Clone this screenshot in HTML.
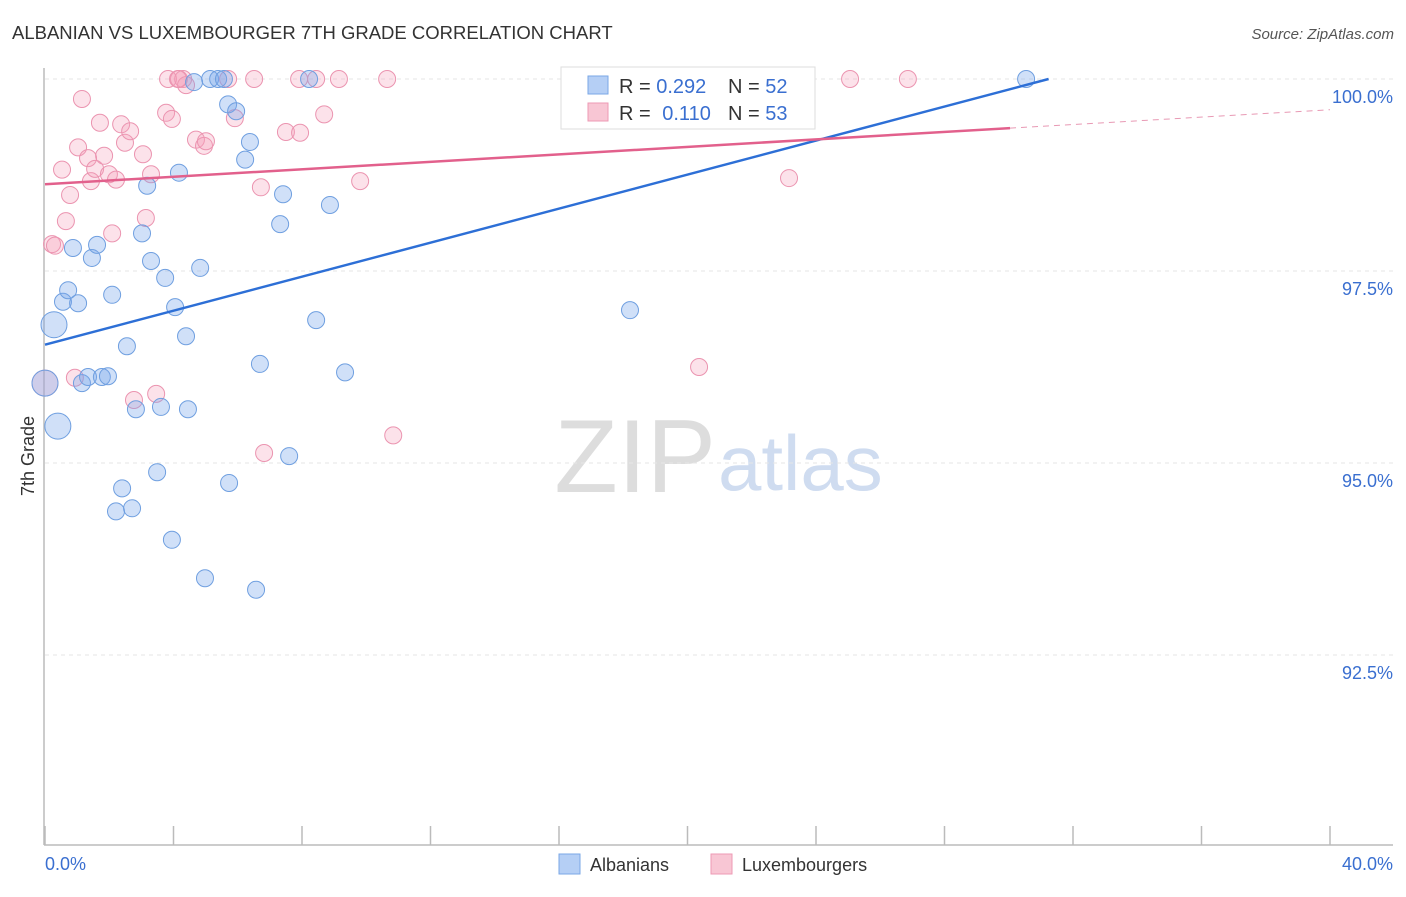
<!DOCTYPE html>
<html><head><meta charset="utf-8"><style>
body{margin:0;background:#fff;font-family:"Liberation Sans",sans-serif;}
svg text{font-family:"Liberation Sans",sans-serif;}
</style></head><body>
<svg id="chart" width="1406" height="892">
<text x="12" y="39" font-size="18.5" fill="#333">ALBANIAN VS LUXEMBOURGER 7TH GRADE CORRELATION CHART</text>
<text x="1394" y="39" font-size="15" fill="#555" font-style="italic" text-anchor="end">Source: ZipAtlas.com</text>
<text transform="translate(34,456) rotate(-90)" font-size="18" fill="#333" text-anchor="middle">7th Grade</text>
<text x="716" y="492" font-size="104" fill="#ddd" font-family="Liberation Serif" text-anchor="end">ZIP</text>
<text x="718" y="490" font-size="78" fill="#cfdcf0" text-anchor="start">atlas</text>
<g id="grid"></g><g id="axes"></g><g id="pts"></g><g id="lines"></g>
<g>
<rect x="561" y="67" width="254" height="62" fill="#fff" stroke="#ddd"/>
<rect x="588" y="76" width="20" height="18" fill="#b5cff5" stroke="#7aa7e6"/>
<rect x="588" y="103" width="20" height="18" fill="#f8c6d4" stroke="#ee9ab4"/>
<text x="619" y="93" font-size="20" fill="#333">R = <tspan fill="#3a6fd0">0.292</tspan><tspan x="728">N = </tspan><tspan fill="#3a6fd0">52</tspan></text>
<text x="619" y="120" font-size="20" fill="#333">R = <tspan fill="#3a6fd0" dx="6">0.110</tspan><tspan x="728">N = </tspan><tspan fill="#3a6fd0">53</tspan></text>
</g>
<g>
<rect x="559" y="854" width="21" height="20" fill="#b5cff5" stroke="#7aa7e6"/>
<text x="590" y="871" font-size="18" fill="#333">Albanians</text>
<rect x="711" y="854" width="21" height="20" fill="#f8c6d4" stroke="#ee9ab4"/>
<text x="742" y="871" font-size="18" fill="#333">Luxembourgers</text>
</g>
</svg>
<script>
const blueX=[0.28,0,0.40,0.87,0.56,1.03,0.72,1.46,1.62,1.15,1.34,1.77,1.96,2.09,2.55,2.83,2.21,2.71,2.40,3.02,3.18,3.30,3.49,3.61,3.74,3.95,4.05,4.17,4.39,4.45,4.83,4.98,5.14,5.39,5.57,5.73,5.70,5.95,6.23,6.38,6.57,6.69,7.32,7.41,7.60,8.22,8.44,8.87,9.34,18.21,30.54,4.64];
const blueY=[96.80,96.04,95.48,97.80,97.10,97.08,97.25,97.67,97.84,96.04,96.12,96.12,96.13,97.19,96.52,95.70,94.37,94.41,94.67,97.99,98.61,97.63,94.88,95.73,97.41,94.00,97.03,98.78,96.65,95.70,97.54,93.50,100,100,100,94.74,99.67,99.58,98.95,99.18,93.35,96.29,98.11,98.50,95.09,100,96.86,98.36,96.18,96.99,100,99.96];
const blueBig=[1,1,1];
const pinkX=[0,0.22,0.31,0.53,0.65,0.78,0.93,1.03,1.15,1.34,1.43,1.56,1.71,1.84,1.99,2.09,2.21,2.37,2.49,2.65,2.77,3.05,3.14,3.30,3.46,3.77,3.83,3.95,4.17,4.30,4.39,4.70,4.95,5.01,5.70,5.91,6.51,6.72,6.82,7.50,7.91,7.94,8.44,8.69,9.15,9.81,10.65,10.84,20.36,23.16,25.06,26.86,4.14];
const pinkY=[96.04,97.85,97.83,98.82,98.15,98.49,96.11,99.11,99.74,98.97,98.67,98.83,99.43,99.00,98.76,97.99,98.69,99.41,99.17,99.32,95.82,99.02,98.19,98.76,95.90,99.56,100,99.48,100,100,99.92,99.21,99.13,99.19,100,99.49,100,98.59,95.13,99.31,100,99.30,100,99.54,100,98.67,100,95.36,96.25,98.71,100,100,100];
const pinkBig=[1];
const yTicks=[100,97.5,95,92.5];
const yTickLabels=["100.0%","97.5%","95.0%","92.5%"];
const xTicks=[0,4,8,12,16,20,24,28,32,36,40];
const blueTrend=[[0,96.54],[31.24,100]];
const pinkTrend=[[0,98.63],[30.04,99.36]];
const pinkTrendExt=[[30.04,99.36],[40,99.60]];

const NS="http://www.w3.org/2000/svg";
const sx=v=>45+v/40*1285;
const sy=v=>79+(100-v)/2.5*192;
function mk(t,a,p){const e=document.createElementNS(NS,t);for(const k in a)e.setAttribute(k,a[k]);document.getElementById(p).appendChild(e);return e;}
yTicks.forEach((t,i)=>{
  const l=mk('line',{x1:45,x2:1393,y1:sy(t),y2:sy(t),stroke:'#e6e6e6','stroke-dasharray':'4,4'},'grid');
  
  
  const tx=mk('text',{x:1393,y:sy(t)+24,'font-size':18,fill:'#3a6fd0','text-anchor':'end'},'grid');
  tx.textContent=yTickLabels[i];
  
  
});
const ax=mk('line',{x1:44,x2:1393,y1:845,y2:845,stroke:'#bbb','stroke-width':1.5},'axes');


const ay=mk('line',{x1:44,x2:44,y1:68,y2:845,stroke:'#bbb','stroke-width':1.5},'axes');


xTicks.forEach(t=>{
  const l=mk('line',{x1:sx(t),x2:sx(t),y1:826,y2:845,stroke:'#bbb','stroke-width':1.5},'axes');
  
  
});
const xl0=mk('text',{x:45,y:870,'font-size':18,fill:'#3a6fd0'},'axes');xl0.textContent='0.0%';


const xl1=mk('text',{x:1393,y:870,'font-size':18,fill:'#3a6fd0','text-anchor':'end'},'axes');xl1.textContent='40.0%';


function pts(X,Y,big,fill,stroke,name){
  X.forEach((x,i)=>{
    const c=mk('circle',{cx:sx(x),cy:sy(Y[i]),r:big[i]?13:8.5,fill:fill,stroke:stroke,'stroke-width':1},'pts');
    
    
  });
}
pts(pinkX,pinkY,pinkBig,'rgba(244,160,186,0.3)','#eb94b0','luxembourger-point');
pts(blueX,blueY,blueBig,'rgba(120,165,235,0.35)','#6f9fe0','albanian-point');
function ln(p,col,name,dash){
  const l=mk('line',{x1:sx(p[0][0]),y1:sy(p[0][1]),x2:sx(p[1][0]),y2:sy(p[1][1]),stroke:col,'stroke-width':dash?1:2.5},'lines');
  if(dash)l.setAttribute('stroke-dasharray','6,5');
  
  
}
ln(blueTrend,'#2d6fd6','albanian-trend-line');
ln(pinkTrend,'#e2608c','luxembourger-trend-line');
ln(pinkTrendExt,'#e899b4','luxembourger-trend-extension',true);
</script>
</body></html>
